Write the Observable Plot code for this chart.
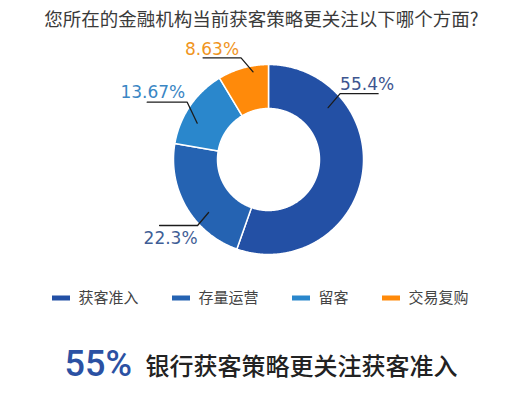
<!DOCTYPE html>
<html>
<head>
<meta charset="utf-8">
<script src="https://cdn.jsdelivr.net/npm/d3@7"></script>
<script src="https://cdn.jsdelivr.net/npm/@observablehq/plot@0.6"></script>
<style>
  html, body { margin: 0; padding: 0; background: #fff; }
  #chart { width: 520px; height: 396px; }
</style>
</head>
<body>
<div id="chart"></div>
<script>
// ---- data ----
const title = "您所在的金融机构当前获客策略更关注以下哪个方面?";
const categories = ["获客准入", "存量运营", "留客", "交易复购"];
const shares = [55.4, 22.3, 13.67, 8.63];
const valueLabels = ["55.4%", "22.3%", "13.67%", "8.63%"];
const headlineValue = "55%";
const headlineText = "银行获客策略更关注获客准入";

// ---- style / layout ----
const colors = ["#2350a5", "#2563b2", "#2a87cc", "#ff8a0a"];
const labelColors = ["#3d5590", "#3f5e96", "#3a86c4", "#f0951e"];
const W = 520, H = 396;
const cx = 268, cy = 159, rOuter = 95, rInner = 51;
// leader layout per label: start angle (deg from top, clockwise), start radius,
// elbow offset, horizontal length (signed), text placement
const leaders = [
  {ang: 49, r: 79, dx: 12, dy: -14, len: 38, anchor: "start", tx: 0, ty: -4},
  {ang: 228.5, r: 80, dx: -11, dy: 13, len: -38, anchor: "end", tx: 0, ty: 18},
  {ang: 297, r: 80, dx: -10, dy: -21, len: -40, anchor: "end", tx: -2, ty: -4},
  {ang: 350, r: 89, dx: -12, dy: -14, len: -38, anchor: "end", tx: -2, ty: -3}
];

const pie = d3.pie().sort(null).value(d => d.v)(categories.map((c, i) => ({c, v: shares[i]})));
const polar = (a, r) => ({x: cx + r * Math.sin(a), y: cy - r * Math.cos(a)});

const slicePts = [];
pie.forEach((p, i) => {
  const n = Math.max(4, Math.ceil((p.endAngle - p.startAngle) / (Math.PI / 360)));
  const pts = [];
  for (let k = 0; k <= n; k++) pts.push(polar(p.startAngle + (p.endAngle - p.startAngle) * k / n, rOuter));
  for (let k = n; k >= 0; k--) pts.push(polar(p.startAngle + (p.endAngle - p.startAngle) * k / n, rInner));
  pts.push(pts[0]);
  pts.forEach(q => slicePts.push({...q, cat: categories[i]}));
});

const leaderPts = [];
const labelData = [];
leaders.forEach((L, i) => {
  const s = polar(L.ang * Math.PI / 180, L.r);
  const e = {x: s.x + L.dx, y: s.y + L.dy};
  const f = {x: e.x + L.len, y: e.y};
  [s, e, f].forEach(q => leaderPts.push({...q, id: i}));
  labelData.push({x: e.x + L.tx, y: e.y + L.ty, text: valueLabels[i], color: labelColors[i], anchor: L.anchor});
});

// legend items
const legend = [];
{
  let x = 52;
  categories.forEach((c, i) => {
    legend.push({cat: c, x1: x, x2: x + 18, y1: 295.5, y2: 300.5, tx: x + 26, ty: 298});
    x += 26 + c.length * 15 + 34;
  });
}

const cjk = "'Noto Sans CJK SC', 'Noto Sans', sans-serif";

const chart = Plot.plot({
  width: W, height: H,
  margin: 0,
  x: {domain: [0, W], range: [0, W], axis: null},
  y: {domain: [0, H], range: [0, H], axis: null},
  color: {domain: categories, range: colors},
  style: {background: "#fff"},
  marks: [
    Plot.text([title], {x: W / 2 + 1, y: 25.5, text: d => d, fontSize: 18.5, fill: "#3a3a3a", fontFamily: cjk, lineAnchor: "bottom"}),
    Plot.line(slicePts, {x: "x", y: "y", z: "cat", fill: "cat", stroke: "white", strokeWidth: 1.5, curve: "linear", strokeLinejoin: "round"}),
    Plot.line(leaderPts, {x: "x", y: "y", z: "id", stroke: "#1c1c1c", strokeWidth: 1.3, curve: "linear"}),
    ...labelData.map(d => Plot.text([d], {x: "x", y: "y", text: "text", fill: d.color, textAnchor: d.anchor, fontSize: 17, fontFamily: "'DejaVu Sans', sans-serif", lineAnchor: "bottom"})),
    Plot.rect(legend, {x1: "x1", x2: "x2", y1: "y1", y2: "y2", fill: "cat"}),
    Plot.text(legend, {x: "tx", y: "ty", text: "cat", textAnchor: "start", fontSize: 15, fill: "#444", fontFamily: cjk, lineAnchor: "middle"}),
    Plot.text([headlineValue], {x: 64, y: 375, text: d => d, textAnchor: "start", fontSize: 36, fontWeight: 500, fill: "#2b51a3", fontFamily: "Roboto, sans-serif", lineAnchor: "bottom"}),
    Plot.text([headlineText], {x: 145, y: 374, text: d => d, textAnchor: "start", fontSize: 24, fontWeight: 500, fill: "#222", fontFamily: cjk, lineAnchor: "bottom"})
  ]
});
document.getElementById("chart").appendChild(chart);
</script>
</body>
</html>
